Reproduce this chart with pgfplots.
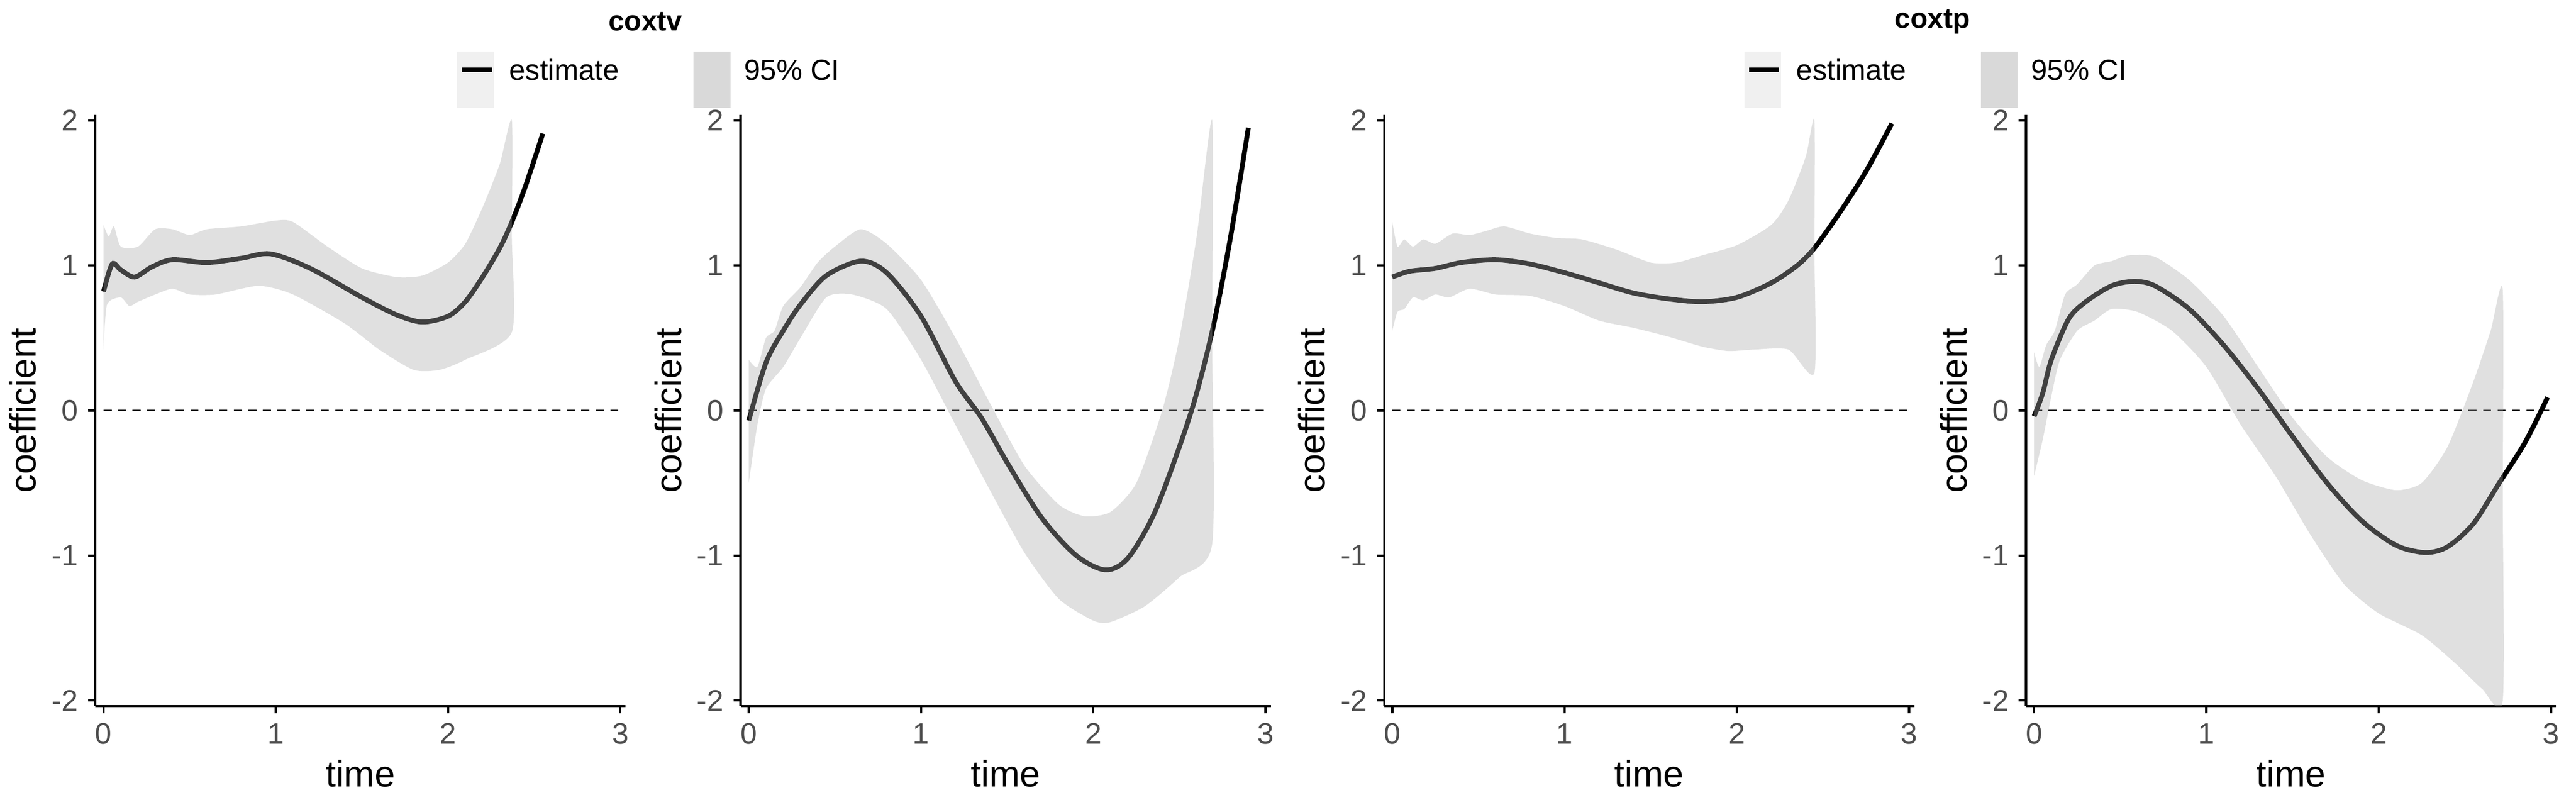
\documentclass[border=0pt]{standalone}
\usepackage{pgfplots}
\pgfplotsset{compat=1.18}
\usepackage{fontspec}
\setmainfont{Liberation Sans}
\definecolor{tickgray}{HTML}{4D4D4D}
\definecolor{bandc}{RGB}{172,172,172}
\pgfplotsset{panel/.style={
  scale only axis, width=6.59cm, height=7.35cm, anchor=south west,
  xmin=-0.047, xmax=3.03, ymin=-2.04, ymax=2.04,
  axis x line*=bottom, axis y line*=left,
  axis line style={black, line width=0.8pt, -},
  xtick={0,1,2,3}, ytick={-2,-1,0,1,2},
  tick align=outside, major tick length=0.09cm,
  tick style={black, line width=0.8pt},
  ticklabel style={font=\fontsize{10.5}{12}\selectfont, text=tickgray},
  /pgf/number format/assume math mode=true,
  xlabel={time}, ylabel={coefficient},
  label style={font=\fontsize{13}{15}\selectfont},
  xlabel style={yshift=0.05cm}, ylabel style={yshift=-0.05cm},
  clip=true},
  est/.style={black, line width=1.7pt, smooth},
  band/.style={fill=bandc, fill opacity=0.373, draw=none, smooth, tension=0.4},
  zero/.style={black, line width=0.6pt, dash pattern=on 0.1cm off 0.08cm}
}
\begin{document}
\begin{tikzpicture}
\path (0,0) rectangle (32,10);
% panel 1
\begin{axis}[panel, at={(1.163cm,1.224cm)}]
\addplot[zero] coordinates {(0,0) (3,0)};
\addplot[est] coordinates {(0,0.82) (0.05,1.01) (0.1,0.97) (0.18,0.92) (0.28,0.99) (0.4,1.04) (0.6,1.02) (0.8,1.05) (0.97,1.08) (1.2,0.98) (1.5,0.78) (1.7,0.66) (1.85,0.61) (2.0,0.65) (2.1,0.75) (2.2,0.92) (2.3,1.12) (2.37,1.3) (2.45,1.55) (2.55,1.91)};
\addplot[band] coordinates {(0,1.28) (0.03,1.2) (0.06,1.27) (0.1,1.13) (0.2,1.13) (0.3,1.25) (0.4,1.25) (0.5,1.21) (0.6,1.25) (0.8,1.27) (1.0,1.31) (1.1,1.3) (1.3,1.13) (1.5,0.98) (1.7,0.92) (1.85,0.93) (2.0,1.02) (2.1,1.15) (2.2,1.4) (2.3,1.7) (2.37,2.0) (2.37,1.2) (2.37,0.54) (2.1,0.35) (1.95,0.28) (1.8,0.28) (1.6,0.42) (1.4,0.6) (1.1,0.8) (0.9,0.86) (0.65,0.8) (0.5,0.8) (0.4,0.84) (0.3,0.8) (0.2,0.75) (0.15,0.72) (0.1,0.78) (0.02,0.73) (0,0.42)} -- cycle;
\end{axis}
% panel 2
\begin{axis}[panel, at={(9.184cm,1.224cm)}]
\addplot[zero] coordinates {(0,0) (3,0)};
\addplot[est] coordinates {(0,-0.07) (0.1,0.33) (0.2,0.55) (0.3,0.73) (0.45,0.93) (0.65,1.03) (0.8,0.95) (1.0,0.65) (1.2,0.2) (1.35,-0.05) (1.5,-0.36) (1.7,-0.74) (1.9,-1.0) (2.07,-1.1) (2.2,-1.02) (2.35,-0.72) (2.5,-0.25) (2.6,0.12) (2.7,0.6) (2.8,1.22) (2.9,1.95)};
\addplot[band] coordinates {(0,0.35) (0.05,0.3) (0.1,0.5) (0.15,0.55) (0.2,0.72) (0.3,0.85) (0.4,1.02) (0.5,1.13) (0.65,1.25) (0.8,1.15) (1.0,0.9) (1.2,0.5) (1.4,0.05) (1.6,-0.38) (1.8,-0.65) (1.95,-0.73) (2.1,-0.7) (2.25,-0.5) (2.4,0) (2.5,0.5) (2.6,1.2) (2.69,2.0) (2.69,0.5) (2.69,-0.92) (2.5,-1.15) (2.3,-1.35) (2.1,-1.46) (2.0,-1.45) (1.8,-1.3) (1.6,-0.98) (1.4,-0.55) (1.2,-0.1) (1.0,0.35) (0.8,0.7) (0.6,0.8) (0.45,0.78) (0.3,0.5) (0.2,0.3) (0.1,0.15) (0.05,-0.1) (0,-0.5)} -- cycle;
\end{axis}
% panel 3
\begin{axis}[panel, at={(17.184cm,1.224cm)}]
\addplot[zero] coordinates {(0,0) (3,0)};
\addplot[est] coordinates {(0,0.92) (0.1,0.96) (0.25,0.98) (0.4,1.02) (0.6,1.04) (0.8,1.01) (1.0,0.95) (1.2,0.88) (1.4,0.81) (1.6,0.77) (1.8,0.75) (2.0,0.78) (2.2,0.88) (2.35,1.0) (2.45,1.12) (2.6,1.37) (2.75,1.65) (2.9,1.98)};
\addplot[band] coordinates {(0,1.3) (0.03,1.13) (0.07,1.18) (0.12,1.13) (0.18,1.18) (0.25,1.15) (0.35,1.22) (0.45,1.21) (0.55,1.24) (0.65,1.27) (0.8,1.22) (0.95,1.19) (1.1,1.18) (1.3,1.11) (1.5,1.02) (1.65,1.02) (1.8,1.07) (2.0,1.14) (2.2,1.28) (2.3,1.45) (2.4,1.75) (2.45,2.0) (2.45,1.1) (2.45,0.26) (2.3,0.42) (2.1,0.42) (1.95,0.41) (1.8,0.44) (1.6,0.51) (1.4,0.57) (1.2,0.62) (1.0,0.72) (0.8,0.79) (0.6,0.8) (0.45,0.84) (0.33,0.78) (0.25,0.8) (0.18,0.76) (0.12,0.78) (0.07,0.7) (0.03,0.68) (0,0.55)} -- cycle;
\end{axis}
% panel 4
\begin{axis}[panel, at={(25.163cm,1.224cm)}]
\addplot[zero] coordinates {(0,0) (3,0)};
\addplot[est] coordinates {(0,-0.04) (0.05,0.12) (0.1,0.35) (0.2,0.63) (0.3,0.75) (0.45,0.86) (0.58,0.89) (0.7,0.86) (0.9,0.7) (1.1,0.45) (1.3,0.15) (1.5,-0.18) (1.7,-0.5) (1.9,-0.76) (2.1,-0.93) (2.27,-0.98) (2.4,-0.94) (2.55,-0.78) (2.7,-0.5) (2.85,-0.22) (2.98,0.09)};
\addplot[band] coordinates {(0,0.4) (0.03,0.3) (0.07,0.45) (0.12,0.55) (0.18,0.8) (0.25,0.87) (0.35,1.0) (0.45,1.03) (0.55,1.07) (0.7,1.06) (0.9,0.9) (1.1,0.65) (1.3,0.3) (1.5,-0.05) (1.7,-0.32) (1.9,-0.48) (2.1,-0.55) (2.25,-0.5) (2.4,-0.25) (2.55,0.2) (2.65,0.55) (2.72,0.83) (2.72,-0.6) (2.72,-2.0) (2.6,-1.92) (2.45,-1.75) (2.25,-1.55) (2.0,-1.4) (1.8,-1.2) (1.6,-0.85) (1.4,-0.45) (1.2,-0.1) (1.0,0.3) (0.8,0.55) (0.6,0.68) (0.45,0.7) (0.35,0.62) (0.25,0.55) (0.15,0.35) (0.1,0.1) (0.05,-0.2) (0,-0.45)} -- cycle;
\end{axis}
% titles and legends
\foreach \dx/\ttl in {0/coxtv,16/coxtp}{
  \begin{scope}[xshift=\dx cm]
  \node[font=\bfseries\fontsize{10}{12}\selectfont] at (8.0,9.73) {\ttl};
  \fill[black!6] (5.66,8.66) rectangle (6.12,9.13+0.23);
  \draw[black, line width=1.6pt] (5.72,9.13) -- (6.09,9.13);
  \node[anchor=west, font=\fontsize{10.3}{12}\selectfont, inner sep=0pt] at (6.30,9.13) {estimate};
  \fill[black!15] (8.60,8.66) rectangle (9.06,9.36);
  \node[anchor=west, font=\fontsize{10.3}{12}\selectfont, inner sep=0pt] at (9.22,9.13) {95\% CI};
  \end{scope}
}
\end{tikzpicture}
\end{document}
